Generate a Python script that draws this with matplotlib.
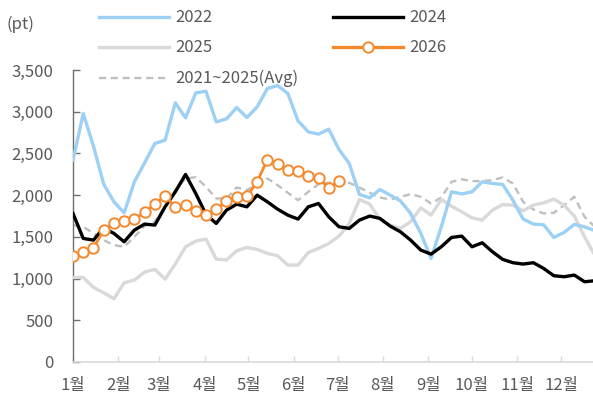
import matplotlib
matplotlib.use("Agg")
import matplotlib.pyplot as plt
from matplotlib.lines import Line2D
from matplotlib.ticker import FuncFormatter
import numpy as np

plt.rcParams['font.family'] = ['Noto Sans CJK KR', 'DejaVu Sans']

# weekly index values (pt)
y2022 = [2419, 2978, 2587, 2132, 1920, 1788, 2160, 2387, 2619, 2659, 3106, 2926, 3226,
         3245, 2878, 2914, 3050, 2931, 3058, 3278, 3314, 3218, 2890, 2758, 2731, 2790,
         2547, 2380, 2008, 1968, 2068, 2000, 1932, 1781, 1541, 1242, 1620, 2040, 2015,
         2040, 2160, 2140, 2128, 1940, 1713, 1653, 1645, 1493, 1553, 1649, 1620, 1575]
y2024 = [1781, 1481, 1461, 1609, 1541, 1441, 1581, 1653, 1641, 1860, 2040, 2248, 2020,
         1769, 1661, 1820, 1892, 1860, 2000, 1920, 1832, 1760, 1713, 1860, 1900, 1740,
         1621, 1601, 1701, 1749, 1721, 1629, 1561, 1461, 1341, 1293, 1381, 1493, 1509,
         1381, 1429, 1321, 1230, 1190, 1174, 1190, 1122, 1034, 1022, 1042, 962, 974]
y2025 = [1014, 1014, 894, 830, 758, 950, 982, 1078, 1110, 994, 1174, 1381, 1449,
         1473, 1234, 1222, 1333, 1373, 1349, 1301, 1273, 1162, 1162, 1313, 1361, 1421,
         1509, 1661, 1948, 1892, 1709, 1641, 1601, 1681, 1848, 1760, 1948, 1868, 1800,
         1728, 1701, 1820, 1888, 1880, 1812, 1880, 1908, 1952, 1880, 1749, 1501, 1281]
y2026 = [1273, 1314, 1369, 1577, 1665, 1685, 1713, 1793, 1892, 1988, 1860, 1877, 1805,
         1757, 1829, 1925, 1976, 1984, 2160, 2427, 2368, 2303, 2291, 2231, 2207, 2080, 2171]
yavg = [1641, 1621, 1541, 1461, 1401, 1381, 1501, 1629, 1681, 1860, 2060, 2200, 2215,
        2100, 1960, 1960, 2092, 2060, 2132, 2200, 2120, 2028, 1940, 2040, 2132, 2148,
        2148, 2148, 2092, 2028, 1972, 1948, 1980, 2012, 1980, 1900, 1972, 2160, 2190,
        2168, 2168, 2180, 2212, 2140, 1920, 1829, 1781, 1788, 1880, 1980, 1741, 1621]

month_days = [0, 31, 59, 90, 120, 151, 181, 212, 243, 273, 304, 334]
month_labels = ['1월', '2월', '3월', '4월', '5월', '6월', '7월', '8월', '9월', '10월', '11월', '12월']

W, H = 593, 407
fig = plt.figure(figsize=(W / 100, H / 100), dpi=100)
ax = fig.add_axes([73 / W, 1 - 362 / H, 520 / W, 292 / H])

def days(n):
    return np.arange(n) * 7

c22 = '#9dd0f5'
c24 = '#000000'
c25 = '#d9d9d9'
c26 = '#f5892e'
cavg = '#bfbfbf'
dash = (0, (3, 2))

ax.plot(days(len(yavg)), yavg, color=cavg, lw=1.7, ls=dash, zorder=2)
ax.plot(days(len(y2025)), y2025, color=c25, lw=2.4, zorder=3)
ax.plot(days(len(y2022)), y2022, color=c22, lw=2.4, zorder=4)
ax.plot(days(len(y2024)), y2024, color=c24, lw=2.4, zorder=5)
ax.plot(days(len(y2026)), y2026, color=c26, lw=2, marker='o', ms=7.5,
        mfc='white', mec=c26, mew=1.4, zorder=6)

ax.set_xlim(0, 520 / 1.4615)
ax.set_ylim(0, 3500)
ax.set_yticks(np.arange(0, 3501, 500))
ax.yaxis.set_major_formatter(FuncFormatter(lambda v, p: f'{int(v):,}'))
ax.set_xticks(month_days)
ax.set_xticklabels(month_labels)

for s in ['top', 'right']:
    ax.spines[s].set_visible(False)
ax.spines['left'].set_color('#6e6e6e')
ax.spines['left'].set_linewidth(1)
ax.spines['bottom'].set_color('#d9d9d9')
ax.spines['bottom'].set_linewidth(1.2)
ax.tick_params(axis='y', direction='in', length=5, width=1, color='#6e6e6e',
               labelsize=12, labelcolor='#595959', pad=14)
ax.tick_params(axis='x', direction='in', length=4, width=1, color='#d9d9d9',
               labelsize=12, labelcolor='#595959', pad=11)

fig.text(7 / W, 1 - 24 / H, '(pt)', fontsize=12, color='#595959', va='center', ha='left')

# legend, two columns
def px(x, y):
    return x / W, 1 - y / H

entries = [
    (99, 17, c22, '-', None, '2022'),
    (333, 17, c24, '-', None, '2024'),
    (99, 47, c25, '-', None, '2025'),
    (333, 47, c26, '-', 'o', '2026'),
    (99, 78, cavg, dash, None, '2021~2025(Avg)'),
]
for x0, yy, col, ls, mk, lab in entries:
    xa, ya = px(x0, yy)
    xb, _ = px(x0 + 70, yy)
    fig.add_artist(Line2D([xa, xb], [ya, ya], transform=fig.transFigure, color=col,
                          lw=2.4 if ls == '-' else 1.7, ls=ls))
    if mk:
        fig.add_artist(Line2D([(xa + xb) / 2], [ya], transform=fig.transFigure, marker='o',
                              ms=7.5, mfc='white', mec=col, mew=1.4, ls='none'))
    tx, ty = px(x0 + 76, yy)
    fig.text(tx, ty, lab, fontsize=12, color='#595959', va='center', ha='left')

fig.savefig('out.png', dpi=100)
